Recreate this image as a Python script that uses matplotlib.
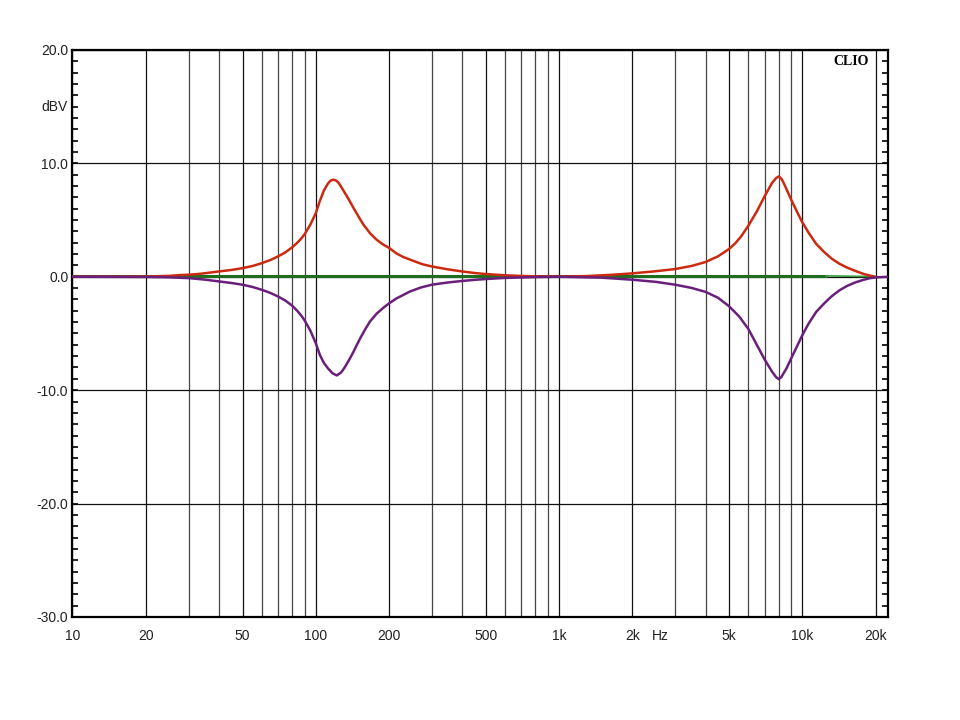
import numpy as np
import matplotlib
matplotlib.use('Agg')
import matplotlib.pyplot as plt
import matplotlib.transforms as mtransforms

# boost curve (red)
red_freq = [10, 20, 25, 27.7, 30, 33.5, 40, 45, 50, 55, 60, 65, 70, 75, 80, 83.5, 87, 90,
            95, 100, 104, 108, 112, 115, 118, 121, 124, 127, 130, 136, 143, 150, 157, 167,
            178, 189, 200, 215, 229, 252, 275, 300, 350, 400, 450, 500, 600, 700, 800,
            1000, 1300, 1670, 2000, 2450, 3000, 3500, 4000, 4500, 5000, 5300, 5600, 6000,
            6500, 7000, 7500, 7800, 8000, 8200, 8350, 8600, 9000, 9500, 10000, 10600,
            11400, 12300, 13200, 14200, 15300, 16500, 17900, 19000, 20000]
red_db = [0.0, 0.02, 0.08, 0.15, 0.18, 0.26, 0.47, 0.6, 0.76, 0.95, 1.2, 1.47, 1.8, 2.15,
          2.6, 2.95, 3.35, 3.75, 4.6, 5.6, 6.7, 7.6, 8.2, 8.48, 8.56, 8.5, 8.3, 7.95, 7.6,
          6.9, 6.06, 5.3, 4.6, 3.85, 3.26, 2.85, 2.55, 2.05, 1.74, 1.4, 1.1, 0.91, 0.65,
          0.47, 0.33, 0.24, 0.13, 0.07, 0.04, 0.02, 0.06, 0.18, 0.3, 0.47, 0.68, 0.95,
          1.3, 1.8, 2.45, 2.95, 3.55, 4.5, 5.76, 7.1, 8.26, 8.7, 8.85, 8.65, 8.35, 7.75,
          6.8, 5.75, 4.8, 3.9, 2.9, 2.18, 1.6, 1.15, 0.8, 0.52, 0.24, 0.1, 0.0]

# cut curve (purple)
pur_freq = [10, 20, 25, 30, 35, 40, 45, 50, 55, 60, 65, 70, 75, 80, 83.5, 87, 90, 95,
            100, 104, 108, 112, 117, 122, 127, 131, 134, 139, 143, 147.6, 152.5, 160, 167,
            178, 189, 200, 215, 244, 270, 300, 350, 400, 450, 500, 600, 800, 1000, 1500,
            2000, 2500, 3000, 3500, 4000, 4500, 5000, 5500, 6000, 6500, 7000, 7500, 7800,
            8000, 8200, 8350, 8600, 9000, 9500, 10000, 10600, 11400, 12300, 13200, 14200,
            15300, 16500, 17900, 19000, 20000, 22500]
pur_db = [0.0, -0.02, -0.05, -0.12, -0.25, -0.41, -0.55, -0.7, -0.9, -1.15, -1.42, -1.74,
          -2.1, -2.55, -2.95, -3.4, -3.85, -4.75, -5.85, -6.9, -7.6, -8.05, -8.5, -8.7,
          -8.45, -8.05, -7.7, -7.1, -6.6, -6.0, -5.4, -4.6, -3.95, -3.25, -2.76, -2.35,
          -1.9, -1.3, -0.95, -0.7, -0.5, -0.37, -0.27, -0.2, -0.1, -0.03, 0.0, -0.08,
          -0.26, -0.45, -0.7, -0.98, -1.33, -1.85, -2.6, -3.5, -4.6, -6.0, -7.3, -8.35,
          -8.85, -9.03, -8.85, -8.55, -8.1, -7.2, -6.15, -5.15, -4.15, -3.1, -2.35, -1.72,
          -1.2, -0.8, -0.5, -0.26, -0.12, -0.06, 0.0]

# flat reference (green)
grn_freq = [10, 1000, 12500]
grn_db = [0.1, 0.1, 0.1]
grn2_freq = [12500, 19500]
grn2_db = [0.08, 0.02]

xtick_pos = [10, 20, 50, 100, 200, 500, 1000, 2000, 5000, 10000, 20000]
xtick_lab = ['10', '20', '50', '100', '200', '500', '1k', '2k', '5k', '10k', '20k']
xgrid_minor = [30, 40, 60, 70, 80, 90, 300, 400, 600, 700, 800, 900,
               3000, 4000, 6000, 7000, 8000, 9000]
ytick_pos = [-30, -20, -10, 0, 10, 20]
ytick_lab = ['-30.0', '-20.0', '-10.0', '0.0', '10.0', '20.0']

plt.rcParams['font.family'] = ['Liberation Sans', 'DejaVu Sans']

fig = plt.figure(figsize=(9.6, 7.2), dpi=100)
ax = fig.add_axes([0.0755, 0.1431, 0.8495, 0.7875])
ax.set_xscale('log')
ax.set_xlim(10, 22500)
ax.set_ylim(-30, 20)

ax.set_xticks(xtick_pos)
ax.set_xticklabels(xtick_lab)
ax.set_xticks(xgrid_minor, minor=True)
ax.xaxis.set_minor_formatter(matplotlib.ticker.NullFormatter())
ax.tick_params(axis='x', which='both', length=0, pad=9, labelsize=10, labelcolor='#222222')

ax.set_yticks(ytick_pos)
ax.set_yticklabels(ytick_lab)
ax.set_yticks(np.arange(-30, 21, 1), minor=True)
ax.tick_params(axis='y', which='both', direction='in', length=4, width=1.2,
               left=True, right=True, pad=3, labelsize=10, labelcolor='#222222')

ax.grid(True, axis='x', which='major', color='#111111', lw=0.9)
ax.grid(True, axis='x', which='minor', color='#444444', lw=0.9)
ax.grid(True, axis='y', which='major', color='#111111', lw=0.9)
ax.set_axisbelow(True)

for sp in ax.spines.values():
    sp.set_linewidth(1.6)
    sp.set_color('black')

ax.plot(grn_freq, grn_db, color='#1f6e1f', lw=2.2, zorder=3)
ax.plot(grn2_freq, grn2_db, color='#3a9a3a', lw=1.2, zorder=3)
ax.plot(red_freq, red_db, color='#cc2a10', lw=1.8, zorder=4)
ax.plot(pur_freq, pur_db, color='#6b1f7c', lw=1.8, zorder=4)

trans = mtransforms.blended_transform_factory(ax.transAxes, ax.transData)
ax.text(-0.006, 15, 'dBV', transform=trans, ha='right', va='center',
        fontsize=10, color='#222222')
trans2 = mtransforms.blended_transform_factory(ax.transData, ax.transAxes)
ax.text(2600, -0.033, 'Hz', transform=trans2, ha='center', va='center',
        fontsize=10, color='#222222')
ax.text(0.977, 0.979, 'CLIO', transform=ax.transAxes, ha='right', va='center',
        fontsize=10, fontweight='bold', family=['Liberation Serif', 'DejaVu Serif'])

fig.savefig('out.png', dpi=100, facecolor='white')
